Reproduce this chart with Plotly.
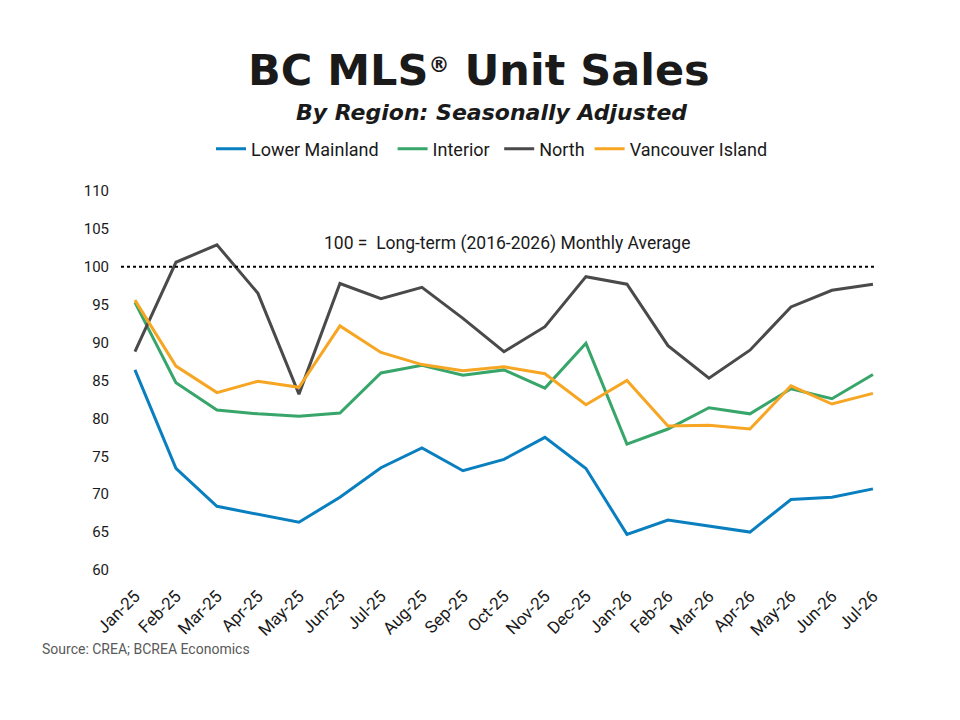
import plotly.graph_objects as go

months = ["Jan-25", "Feb-25", "Mar-25", "Apr-25", "May-25", "Jun-25", "Jul-25", "Aug-25",
          "Sep-25", "Oct-25", "Nov-25", "Dec-25", "Jan-26", "Feb-26", "Mar-26", "Apr-26",
          "May-26", "Jun-26", "Jul-26"]

lower_mainland = [86.4, 73.4, 68.4, 67.3, 66.3, 69.6, 73.5, 76.1, 73.1, 74.6, 77.5, 73.4,
                  64.7, 66.6, 65.8, 65.0, 69.3, 69.6, 70.7]
interior = [95.3, 84.7, 81.1, 80.6, 80.3, 80.7, 86.0, 87.0, 85.7, 86.4, 84.0, 89.9,
            76.6, 78.6, 81.4, 80.6, 83.9, 82.6, 85.8]
north = [88.8, 100.6, 102.9, 96.5, 83.2, 97.8, 95.8, 97.3, 93.2, 88.8, 92.1, 98.7,
         97.7, 89.6, 85.3, 89.0, 94.7, 96.9, 97.7]
vancouver_island = [95.6, 86.9, 83.4, 84.9, 84.1, 92.2, 88.7, 87.1, 86.3, 86.8, 85.9, 81.8,
                    85.0, 79.0, 79.1, 78.6, 84.3, 81.9, 83.3]

NB = "\u00a0"
series = [
    ("Lower Mainland", lower_mainland, "#0A7FC0", 2),
    ("Interior", interior, "#38A66A", 1),
    ("North", north, "#4A4A4A", 0),
    ("Vancouver Island", vancouver_island, "#F6A623", 0),
]

y_ticks = [60, 65, 70, 75, 80, 85, 90, 95, 100, 105, 110]
reference_level = 100

fig = go.Figure()
for name, vals, color, pad in series:
    fig.add_trace(go.Scatter(x=list(range(len(months))), y=vals, name=name + NB * pad, mode="lines",
                             line=dict(color=color, width=3),
                             hovertemplate=name + ": %{y}<extra></extra>"))

W, H = 960, 720
left, right, top, bottom = 121, 875, 191, 570
fig.update_layout(
    width=W, height=H,
    margin=dict(l=left, r=W - right, t=top, b=H - bottom, autoexpand=False),
    paper_bgcolor="white", plot_bgcolor="white",
    font=dict(family="Roboto", color="#1a1a1a"),
    showlegend=True,
    legend=dict(orientation="h", x=492 / W, xanchor="center", y=(H - 149) / H, yanchor="middle",
                xref="container", yref="container",
                font=dict(family="Roboto", size=18, color="#1a1a1a"),
                itemwidth=30, traceorder="normal"),
)
fig.update_xaxes(range=[-0.34, 18.05], tickmode="array", tickvals=list(range(len(months))),
                 ticktext=months, tickangle=-45, showgrid=False, zeroline=False,
                 showline=False, ticks="", ticklabelstandoff=12,
                 tickfont=dict(family="Roboto", size=17, color="#1a1a1a"))
fig.update_yaxes(range=[60, 110], tickvals=y_ticks, showgrid=False, zeroline=False,
                 showline=False, ticks="", ticklabelstandoff=11,
                 tickfont=dict(family="Roboto", size=15, color="#1a1a1a"))

fig.add_shape(type="line", xref="paper", yref="y", x0=0, x1=1, y0=reference_level,
              y1=reference_level, line=dict(color="black", width=2, dash="dot"))


def pos(px, py):
    return dict(xref="paper", yref="paper", x=(px - left) / (right - left), y=(bottom - py) / (bottom - top))


fig.add_annotation(**pos(507, 243), text="100 =  Long-term (2016-2026) Monthly Average",
                   showarrow=False, font=dict(family="Roboto", size=17.5, color="#1a1a1a"),
                   xanchor="center", yanchor="middle")
fig.add_annotation(**pos(479, 70),
                   text="<b>BC MLS<span style='font-size:30px'><sup>®</sup></span> Unit Sales</b>",
                   showarrow=False, font=dict(family="DejaVu Sans", size=43, color="#1a1a1a"),
                   xanchor="center", yanchor="middle")
fig.add_annotation(**pos(491, 112), text="<b><i>By Region: Seasonally Adjusted</i></b>", showarrow=False,
                   font=dict(family="DejaVu Sans", size=22, color="#1a1a1a"), xanchor="center",
                   yanchor="middle")
fig.add_annotation(**pos(40, 649), text="Source: CREA; BCREA Economics", showarrow=False,
                   font=dict(family="Roboto", size=14, color="#595959"), xanchor="left", yanchor="middle")

fig.write_html("out.html", config={"displayModeBar": False},
               post_script="document.body.style.margin='0';")
